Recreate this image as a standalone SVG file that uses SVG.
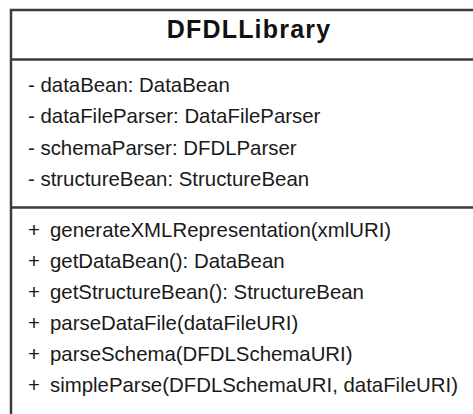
<svg xmlns="http://www.w3.org/2000/svg" width="473" height="414" viewBox="0 0 473 414">
<style>
.box{fill:#fff;stroke:#3c3c3c;stroke-width:2.5}
.sep{stroke:#3c3c3c;stroke-width:2.5}
.title{font-family:"Liberation Sans",Arial,sans-serif;font-weight:bold;font-size:25px;letter-spacing:1.2px;fill:#111;text-anchor:middle}
.t{font-family:"Liberation Sans",Arial,sans-serif;font-size:20.4px;fill:#1a1a1a}
</style>
<rect width="473" height="414" fill="#fff"/>
<g id="DFDLLibrary">
<rect class="box" x="11" y="10" width="478" height="420"/>
<text class="title" x="249" y="38">DFDLLibrary</text>
<line class="sep" x1="11" y1="59.5" x2="489" y2="59.5"/>
<text class="t" x="28" y="92">- dataBean: DataBean</text>
<text class="t" x="28" y="123">- dataFileParser: DataFileParser</text>
<text class="t" x="28" y="155">- schemaParser: DFDLParser</text>
<text class="t" x="28" y="186">- structureBean: StructureBean</text>
<line class="sep" x1="11" y1="207.5" x2="489" y2="207.5"/>
<text class="t" y="237"><tspan x="28">+</tspan><tspan x="50">generateXMLRepresentation(xmlURI)</tspan></text>
<text class="t" y="268"><tspan x="28">+</tspan><tspan x="50">getDataBean(): DataBean</tspan></text>
<text class="t" y="299"><tspan x="28">+</tspan><tspan x="50">getStructureBean(): StructureBean</tspan></text>
<text class="t" y="330"><tspan x="28">+</tspan><tspan x="50">parseDataFile(dataFileURI)</tspan></text>
<text class="t" y="361"><tspan x="28">+</tspan><tspan x="50">parseSchema(DFDLSchemaURI)</tspan></text>
<text class="t" y="392"><tspan x="28">+</tspan><tspan x="50">simpleParse(DFDLSchemaURI, dataFileURI)</tspan></text>
</g>
</svg>
